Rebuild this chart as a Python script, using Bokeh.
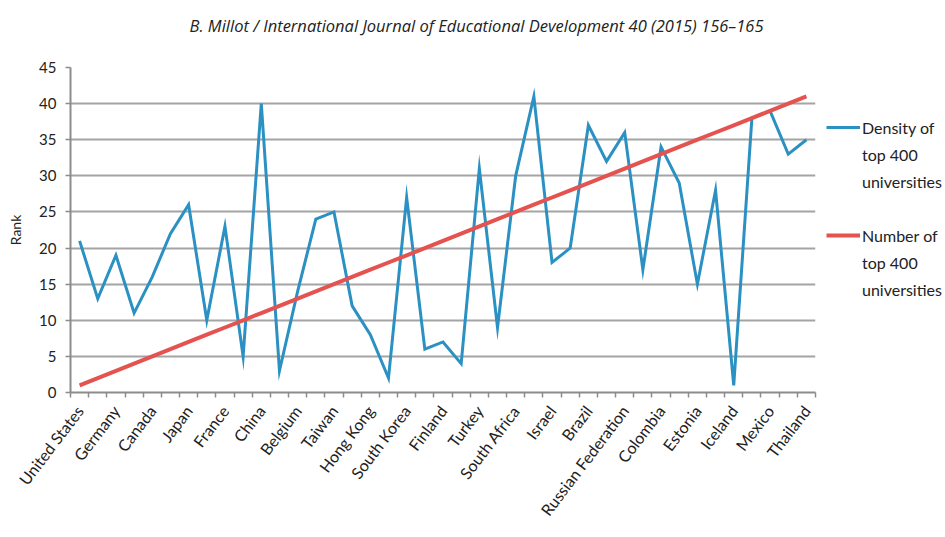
from bokeh.plotting import figure
from bokeh.layouts import row
from bokeh.models import (Range1d, FixedTicker, Legend, LegendItem, Title,
                          ColumnDataSource)
from bokeh.embed import file_html
from bokeh.resources import INLINE

# ---- data ----
countries = [
    "United States", "", "Germany", "", "Canada", "", "Japan", "", "France", "",
    "China", "", "Belgium", "", "Taiwan", "", "Hong Kong", "", "South Korea", "",
    "Finland", "", "Turkey", "", "South Africa", "", "Israel", "", "Brazil", "",
    "Russian Federation", "", "Colombia", "", "Estonia", "", "Iceland", "", "Mexico", "",
    "Thailand",
]
density_rank = [21, 13, 19, 11, 16, 22, 26, 10, 23, 5,
                40, 3, 14, 24, 25, 12, 8, 2, 27, 6,
                7, 4, 31, 9, 30, 41, 18, 20, 37, 32,
                36, 17, 34, 29, 15, 28, 1, 38, 39, 33,
                35]
number_rank = [1, 2, 3, 4, 5, 6, 7, 8, 9, 10,
               11, 12, 13, 14, 15, 16, 17, 18, 19, 20,
               21, 22, 23, 24, 25, 26, 27, 28, 29, 30,
               31, 32, 33, 34, 35, 36, 37, 38, 39, 40,
               41]
y_ticks = [0, 5, 10, 15, 20, 25, 30, 35, 40, 45]
legend_density = ["Density of", "top 400", "universities"]
legend_number = ["Number of", "top 400", "universities"]
header = "B. Millot / International Journal of Educational Development 40 (2015) 156\u2013165"

pos = list(range(1, len(countries) + 1))
src = ColumnDataSource(dict(x=pos, d=density_rank, n=number_rank))

BLUE = "#2B90C2"
RED = "#E4534F"
FONT = "Lato"
H = 527

p = figure(width=825, height=H, output_backend="svg", toolbar_location=None,
           title=None,
           x_range=Range1d(0.5, len(countries) + 0.5), y_range=Range1d(0, 45),
           min_border_left=70, min_border_right=10, min_border_top=67,
           min_border_bottom=135)
p.outline_line_color = None
p.background_fill_color = "white"

# spacer title (nearest the frame) then the header title above it
p.add_layout(Title(text=" ", text_font=FONT, text_font_size="24px", standoff=0), "above")
p.add_layout(Title(text=header, align="left", offset=119, standoff=0,
                   text_font="Open Sans", text_font_style="italic",
                   text_font_size="16.5px", text_color="#222222"), "above")

p.xgrid.grid_line_color = None
p.ygrid.grid_line_color = "#A4A4A4"
p.ygrid.grid_line_width = 1.8
p.yaxis.ticker = FixedTicker(ticks=y_ticks)

label_pos = [i for i, c in zip(pos, countries) if c]
p.xaxis.ticker = FixedTicker(ticks=label_pos,
                             minor_ticks=[i - 0.5 for i in pos] + [len(pos) + 0.5])
p.xaxis.major_label_overrides = {i: c for i, c in zip(pos, countries) if c}
p.xaxis.major_label_orientation = 0.92
p.xaxis.major_tick_out = 0
p.xaxis.major_tick_in = 0
p.xaxis.minor_tick_out = 5
p.xaxis.minor_tick_in = 0
p.xaxis.minor_tick_line_color = "#8C8C8C"
p.xaxis.minor_tick_line_width = 1.5
p.xaxis.major_label_standoff = 10

for ax in (p.xaxis, p.yaxis):
    ax.axis_line_color = "#8C8C8C"
    ax.axis_line_width = 2
    ax.major_tick_line_color = "#8C8C8C"
    ax.major_tick_line_width = 1.5
    ax.major_label_text_font = FONT
    ax.major_label_text_color = "#222222"

p.xaxis.major_label_text_font_size = "16px"
p.yaxis.major_label_text_font_size = "15px"
p.yaxis.major_tick_out = 5
p.yaxis.major_tick_in = 0
p.yaxis.minor_tick_line_color = None
p.yaxis.major_label_standoff = 9
p.yaxis.axis_label = "Rank"
p.yaxis.axis_label_text_font = FONT
p.yaxis.axis_label_text_font_style = "normal"
p.yaxis.axis_label_text_font_size = "14px"
p.yaxis.axis_label_text_color = "#222222"
p.yaxis.axis_label_standoff = 12

p.line("x", "d", source=src, line_color=BLUE, line_width=3, line_join="miter")
p.line("x", "n", source=src, line_color=RED, line_width=4)

# ---- legend panel (separate figure; its own lines sit outside its view) ----
q = figure(width=118, height=H, output_backend="svg", toolbar_location=None,
           x_range=Range1d(-2, -1), y_range=Range1d(-2, -1),
           x_axis_type=None, y_axis_type=None, min_border=0)
q.outline_line_color = None
q.grid.grid_line_color = None
l_d = q.line("x", "d", source=src, line_color=BLUE, line_width=3)
l_n = q.line("x", "n", source=src, line_color=RED, line_width=4)
l_blank = q.line("x", "n", source=src, line_alpha=0)

items = [LegendItem(label=legend_density[0], renderers=[l_d])]
items += [LegendItem(label=t, renderers=[l_blank]) for t in legend_density[1:]]
items += [LegendItem(label=" ", renderers=[l_blank])]
items += [LegendItem(label=legend_number[0], renderers=[l_n])]
items += [LegendItem(label=t, renderers=[l_blank]) for t in legend_number[1:]]

lg = Legend(items=items, location=(1, 93), orientation="vertical",
            glyph_width=34, glyph_height=20, label_height=20,
            label_standoff=2, spacing=7, padding=0, margin=0,
            border_line_color=None, background_fill_alpha=0,
            label_text_font=FONT, label_text_font_size="16px",
            label_text_color="#222222")
q.add_layout(lg, "center")

layout = row(p, q, spacing=0)
open("out.html", "w").write(file_html(layout, INLINE))
